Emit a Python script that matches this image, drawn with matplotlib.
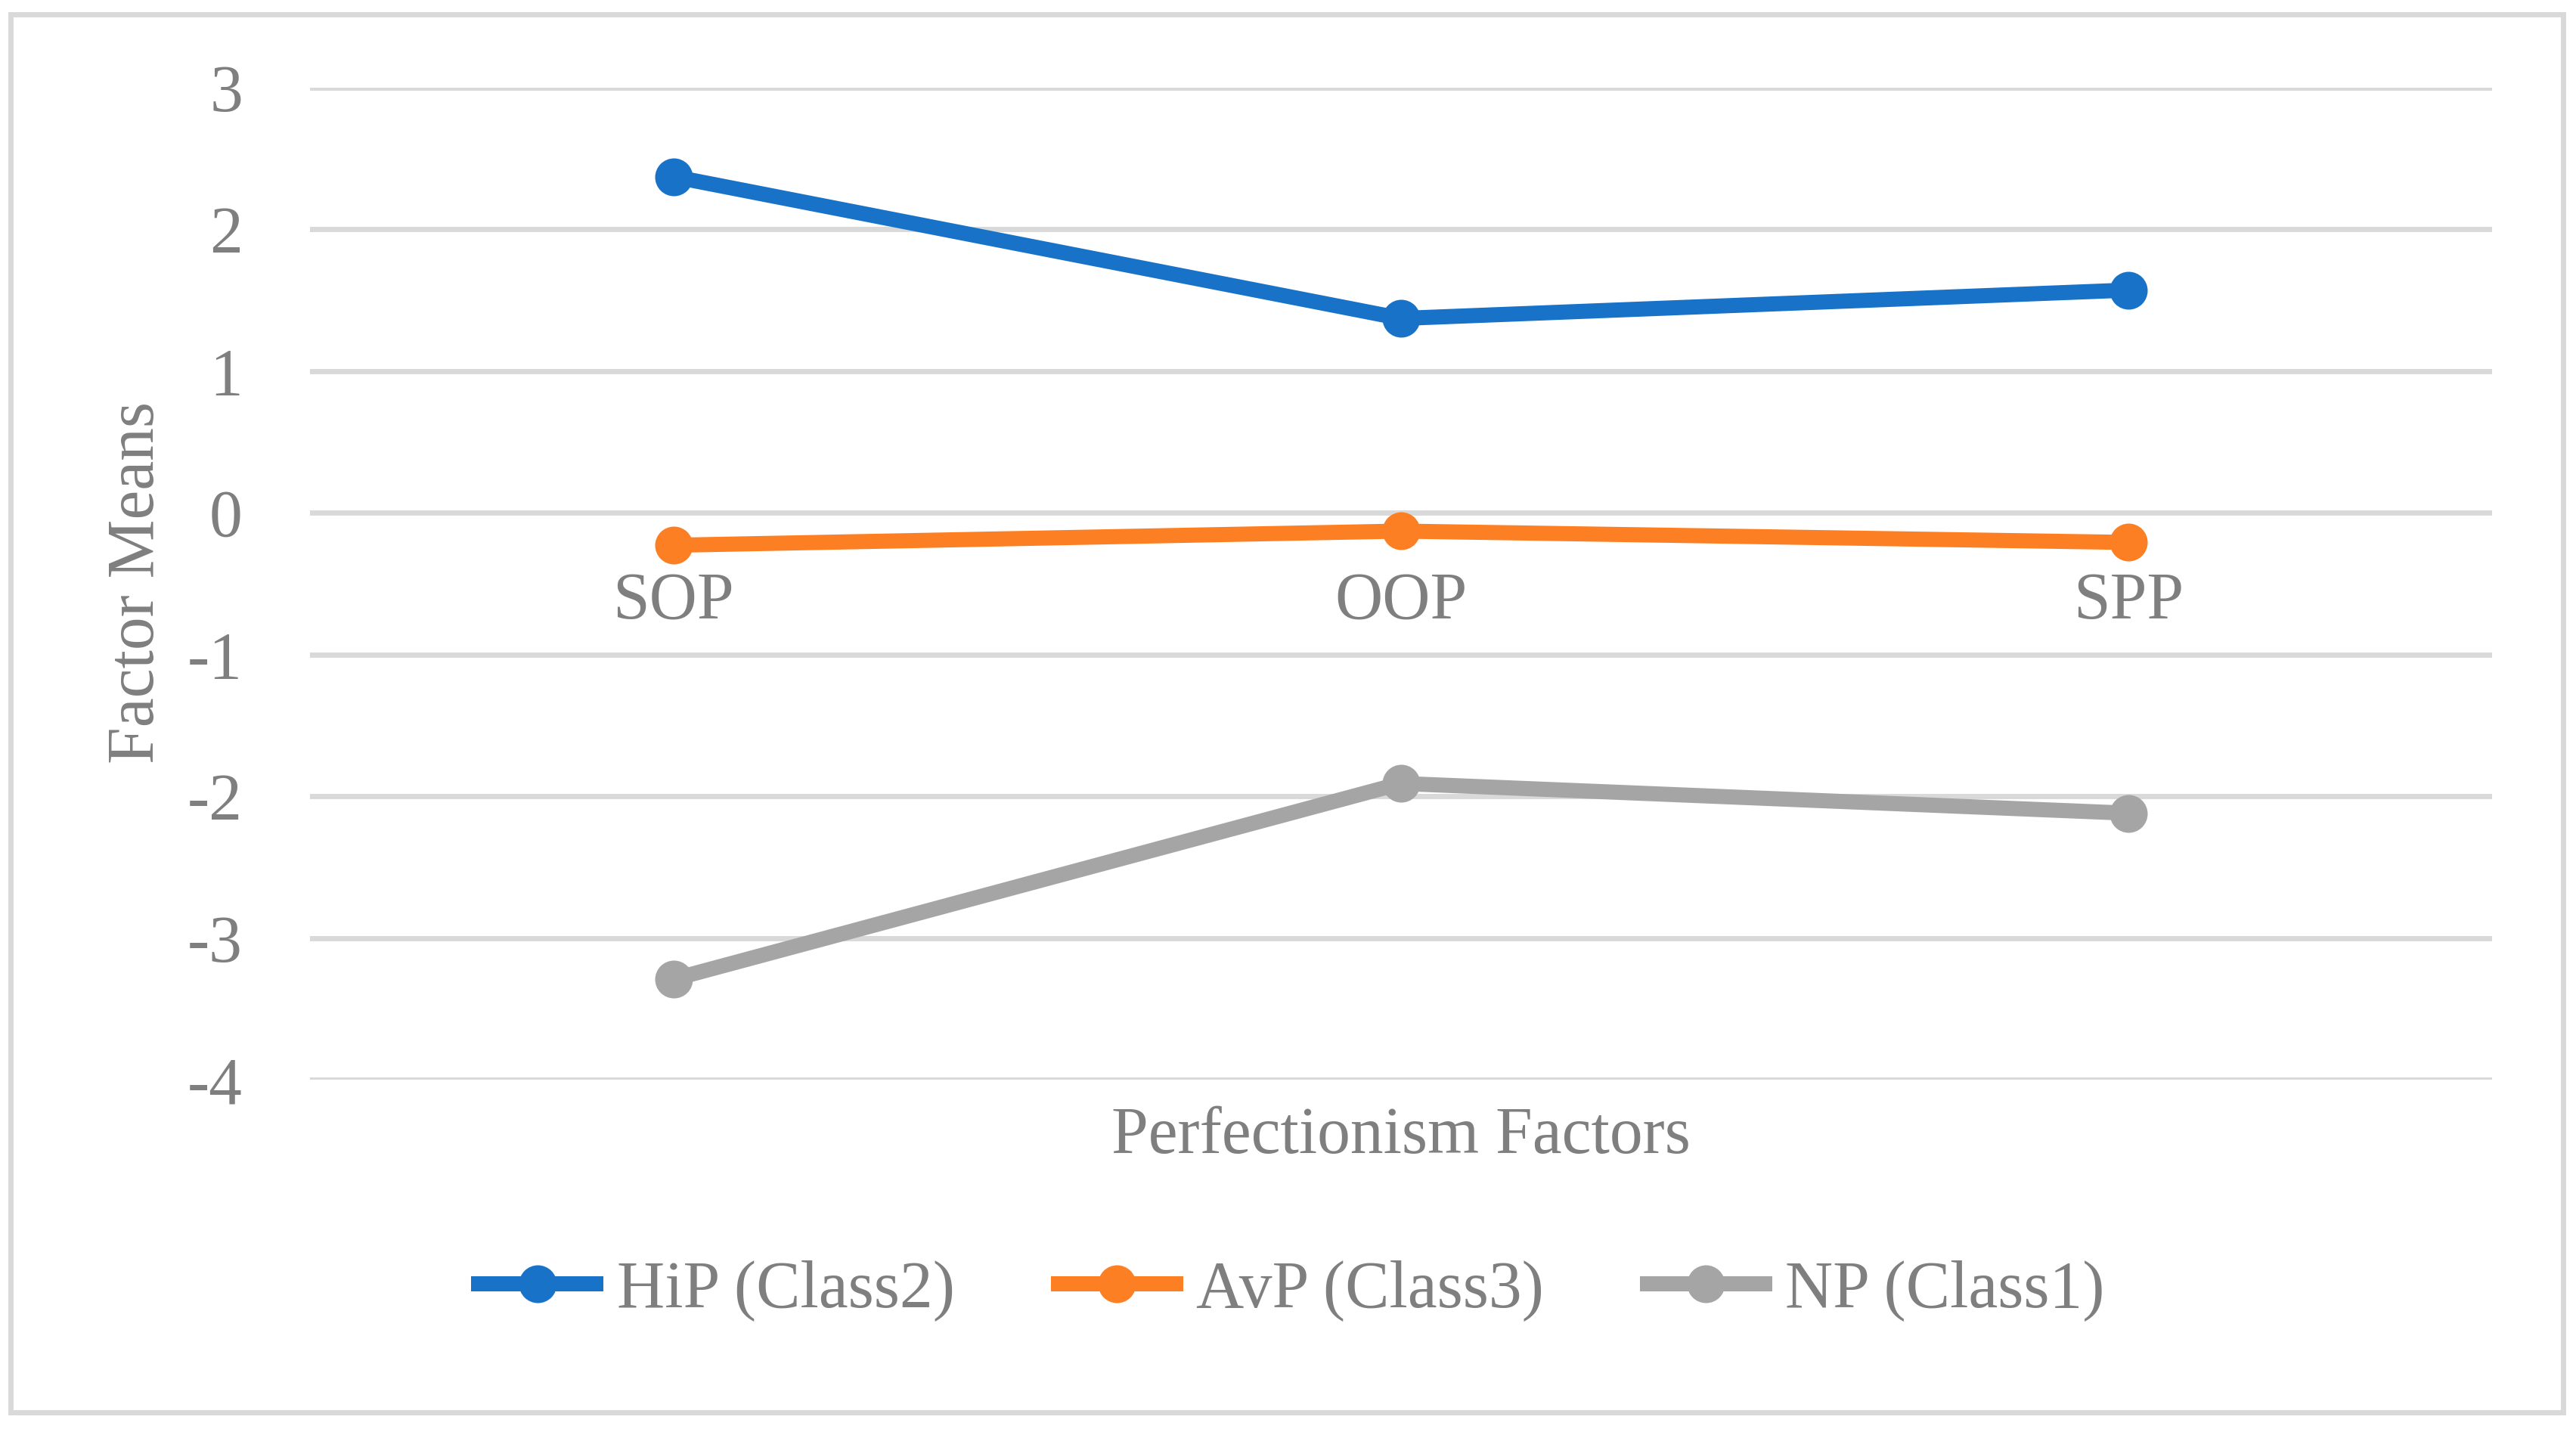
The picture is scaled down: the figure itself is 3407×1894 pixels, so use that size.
import matplotlib
matplotlib.use("Agg")
import matplotlib.pyplot as plt
from matplotlib.patches import Rectangle

# data
factors = ["SOP", "OOP", "SPP"]
hip = [2.37, 1.37, 1.57]
avp = [-0.23, -0.13, -0.21]
np_ = [-3.29, -1.91, -2.12]
series_names = ["HiP (Class2)", "AvP (Class3)", "NP (Class1)"]
colors = ["#1872C8", "#FD7F24", "#A5A5A5"]
yticks = [3, 2, 1, 0, -1, -2, -3, -4]

text_col = "#7F7F7F"
grid_col = "#D9D9D9"
fs = 31.5

plt.rcParams["font.family"] = ["Liberation Serif", "DejaVu Serif"]

fig = plt.figure(figsize=(17.035, 9.47), dpi=200)
ax = fig.add_axes([0.1203, 0.246, 0.8471, 0.693])

x = list(range(len(factors)))
for vals, name, c in zip([hip, avp, np_], series_names, colors):
    ax.plot(x, vals, color=c, lw=7.2, marker="o", ms=17, label=name,
            solid_capstyle="butt", zorder=3)

ax.set_xlim(-0.5, len(factors) - 0.5)
ax.set_ylim(-4, 3)
ax.set_yticks(yticks)
ax.set_yticklabels([str(v) for v in yticks])
ax.yaxis.grid(True, color=grid_col, lw=2.5)
ax.set_axisbelow(True)

for s in ["top", "right", "left"]:
    ax.spines[s].set_visible(False)
ax.spines["bottom"].set_position(("data", 0))
ax.spines["bottom"].set_visible(False)

ax.set_xticks(x)
ax.set_xticklabels(factors)
ax.tick_params(axis="x", length=0, pad=28, labelsize=fs, labelcolor=text_col)
ax.tick_params(axis="y", length=0, pad=32, labelsize=fs, labelcolor=text_col)

fig.text(0.5 * (0.1203 + 0.9674), 1 - 1503 / 1894, "Perfectionism Factors",
         ha="center", va="center", fontsize=fs, color=text_col)
fig.text(181 / 3407, 1 - 771 / 1894, "Factor Means", rotation=90,
         ha="center", va="center", fontsize=fs, color=text_col)

leg = fig.legend(loc="center", bbox_to_anchor=(0.5, 1 - 1707 / 1894), ncol=3,
                 frameon=False, fontsize=fs, handlelength=2.0,
                 handletextpad=0.2, columnspacing=1.45)
for t in leg.get_texts():
    t.set_color(text_col)

fig.patches.append(Rectangle((14 / 3407, 1 - 1868 / 1894),
                             (3390 - 14) / 3407, (1868 - 19) / 1894,
                             transform=fig.transFigure, fill=False,
                             edgecolor=grid_col, lw=2.5))

fig.savefig("out.png", dpi=200, facecolor="white")
